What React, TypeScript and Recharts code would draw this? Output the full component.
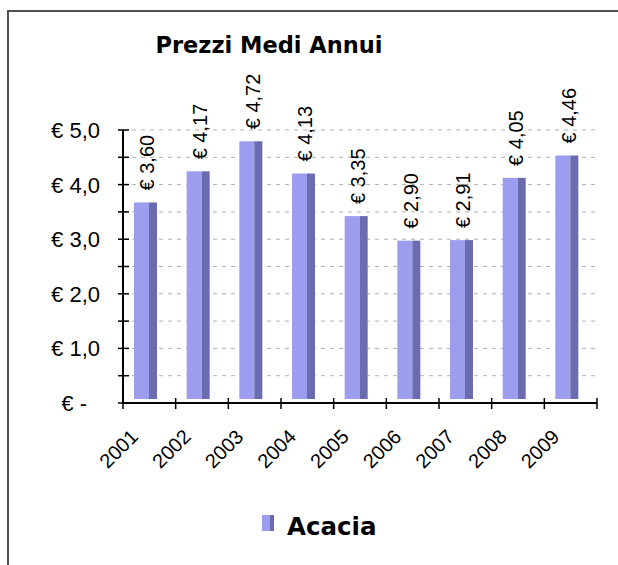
import React from "react";
import { BarChart, Bar, XAxis, YAxis, CartesianGrid, LabelList } from "recharts";

// dati
const years = ["2001", "2002", "2003", "2004", "2005", "2006", "2007", "2008", "2009"];
const acacia = [3.6, 4.17, 4.72, 4.13, 3.35, 2.9, 2.91, 4.05, 4.46];
const yTicks = [0, 0.5, 1, 1.5, 2, 2.5, 3, 3.5, 4, 4.5, 5];

const data = years.map((year, i) => ({ year, acacia: acacia[i] }));

const W = 618;
const H = 565;
const PLOT_LEFT = 123;
const PLOT_RIGHT = 597;
const BAND = (PLOT_RIGHT - PLOT_LEFT) / years.length;
const DEPTH = 4;

const LIGHT = "#9d9def";
const DARK = "#6b6bb0";
const FONT = "'Liberation Sans', Arial, sans-serif";
const BOLD_FONT = "'DejaVu Sans', Verdana, sans-serif";

const fmt = (v: number) => v.toFixed(2).replace(".", ",");

const YTick = (props: any) => {
  const { x, y, payload } = props;
  const v = payload.value as number;
  const isInt = Number.isInteger(v);
  return (
    <g>
      <line x1={x - 5} x2={x + 6} y1={y} y2={y} stroke="#000" strokeWidth={1.5} />
      {isInt && (
        <text
          x={v === 0 ? x - 36 : x - 23}
          y={y}
          dy={8}
          textAnchor="end"
          fontFamily={FONT}
          fontSize={22}
          fill="#000"
        >
          {v === 0 ? "€ -" : `€ ${v.toFixed(1).replace(".", ",")}`}
        </text>
      )}
    </g>
  );
};

const XTick = (props: any) => {
  const { x, y, payload, index } = props;
  const left = x - BAND / 2;
  const tx = x - 10;
  const ty = y + 35;
  return (
    <g>
      <line x1={left} x2={left} y1={y - 5} y2={y + 6} stroke="#000" strokeWidth={1.5} />
      {index === years.length - 1 && (
        <line x1={x + BAND / 2} x2={x + BAND / 2} y1={y - 5} y2={y + 6} stroke="#000" strokeWidth={1.5} />
      )}
      <text
        x={tx}
        y={ty}
        textAnchor="end"
        transform={`rotate(-45, ${tx}, ${ty})`}
        fontFamily={FONT}
        fontSize={20}
        fill="#000"
      >
        {payload.value}
      </text>
    </g>
  );
};

const Bar3D = (props: any) => {
  const { x, y, width, height } = props;
  const light = Math.round(width * 0.65);
  return (
    <g>
      <rect x={x - DEPTH} y={y - DEPTH} width={light} height={height} fill={LIGHT} />
      <rect x={x - DEPTH + light} y={y - DEPTH} width={width - light} height={height} fill={DARK} />
    </g>
  );
};

const ValueLabel = (props: any) => {
  const { x, y, width, value } = props;
  const lx = x + width / 2 - DEPTH + 2;
  const ly = y - DEPTH - 12;
  return (
    <text
      x={lx}
      y={ly}
      textAnchor="start"
      dominantBaseline="central"
      transform={`rotate(-90, ${lx}, ${ly})`}
      fontFamily={FONT}
      fontSize={20}
      fill="#000"
    >
      {`€ ${fmt(value)}`}
    </text>
  );
};

export default function App() {
  return (
    <div style={{ position: "absolute", left: 0, top: 0, width: W, height: H, overflow: "hidden", background: "#fff" }}>
      <div
        style={{
          position: "absolute",
          left: 7,
          top: 10,
          width: 800,
          height: 800,
          border: "2px solid #505050",
          boxSizing: "border-box",
        }}
      />
      <div
        style={{
          position: "absolute",
          left: 0,
          width: 538,
          top: 32,
          lineHeight: "normal",
          textAlign: "center",
          fontFamily: BOLD_FONT,
          fontWeight: "bold",
          fontSize: 22.5,
          color: "#000",
        }}
      >
        Prezzi Medi Annui
      </div>
      <div style={{ position: "absolute", left: 0, top: 0 }}>
        <BarChart width={W} height={H} data={data} margin={{ top: 130, right: W - PLOT_RIGHT, bottom: 0, left: 0 }}>
          <CartesianGrid vertical={false} stroke="#b0b0b0" strokeDasharray="4 5" />
          <XAxis
            dataKey="year"
            height={162}
            tickLine={false}
            tickSize={0}
            tickMargin={0}
            interval={0}
            axisLine={{ stroke: "#000", strokeWidth: 2 }}
            tick={<XTick />}
          />
          <YAxis
            width={PLOT_LEFT}
            domain={[0, 5]}
            ticks={yTicks}
            interval={0}
            tickLine={false}
            tickSize={0}
            tickMargin={0}
            axisLine={{ stroke: "#000", strokeWidth: 2 }}
            tick={<YTick />}
          />
          <Bar dataKey="acacia" barSize={23} shape={<Bar3D />} isAnimationActive={false}>
            <LabelList dataKey="acacia" content={<ValueLabel />} />
          </Bar>
        </BarChart>
      </div>
      <div
        style={{
          position: "absolute",
          left: 262,
          top: 515,
          width: 8,
          height: 16,
          background: LIGHT,
          borderRight: `4px solid ${DARK}`,
        }}
      />
      <div
        style={{
          position: "absolute",
          left: 287,
          top: 512,
          lineHeight: "normal",
          fontFamily: BOLD_FONT,
          fontWeight: "bold",
          fontSize: 24.5,
          color: "#000",
        }}
      >
        Acacia
      </div>
    </div>
  );
}
